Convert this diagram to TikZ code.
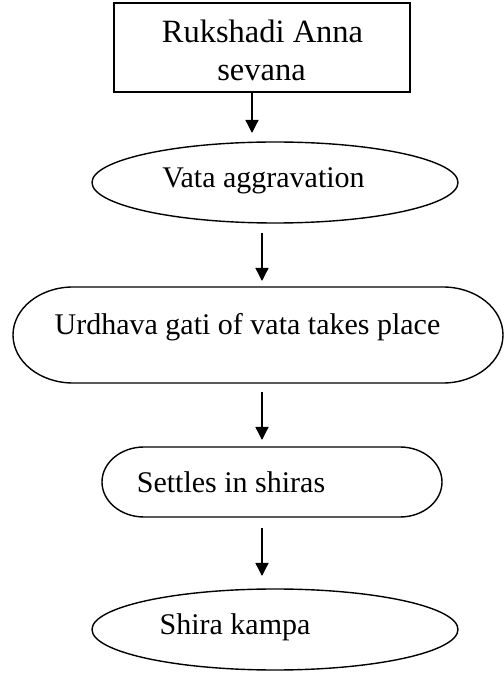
\documentclass[tikz,border=0pt]{standalone}
\usepackage{fontspec}
\setmainfont{Liberation Serif}
\usetikzlibrary{arrows.meta,shapes.geometric}

\tikzset{
  outline/.style={line width=1.4pt, draw=black},
  boxnode/.style={outline, rectangle, inner sep=0pt, outer sep=0pt},
  ovalnode/.style={outline, ellipse, inner sep=0pt, outer sep=0pt},
  capframe/.style={rectangle, draw=none, inner sep=0pt, outer sep=0pt},
  label text/.style={font=\fontsize{30}{38}\selectfont, inner sep=0pt, anchor=base},
  box text/.style={font=\fontsize{32.5}{38}\selectfont, inner sep=0pt, anchor=base},
  flowarrow/.style={line width=1.3pt, -{Triangle[length=13pt,width=13pt]}}
}

\begin{document}
\begin{tikzpicture}[x=1pt,y=1pt]
  \useasboundingbox (0,0) rectangle (504,673);

  % shapes
  \node[boxnode, minimum width=296pt, minimum height=89pt] (rect) at (262,625.5) {};
  \node[ovalnode, minimum width=366pt, minimum height=81pt] (vata) at (275,490.5) {};
  \node[capframe, minimum width=490pt, minimum height=96pt] (urd) at (258,338) {};
  \node[capframe, minimum width=340pt, minimum height=70pt] (set) at (272,191) {};
  \node[ovalnode, minimum width=366pt, minimum height=81pt] (shira) at (275,43.5) {};

  % capsule outlines with elliptical ends
  \draw[outline] ([xshift=60pt]urd.north west) -- ([xshift=-60pt]urd.north east)
    arc[start angle=90, end angle=-90, x radius=60pt, y radius=48pt]
    -- ([xshift=60pt]urd.south west)
    arc[start angle=270, end angle=90, x radius=60pt, y radius=48pt] -- cycle;
  \draw[outline] ([xshift=42pt]set.north west) -- ([xshift=-42pt]set.north east)
    arc[start angle=90, end angle=-90, x radius=42pt, y radius=35pt]
    -- ([xshift=42pt]set.south west)
    arc[start angle=270, end angle=90, x radius=42pt, y radius=35pt] -- cycle;

  % texts
  \node[box text] (t1) at ([xshift=0.5pt,yshift=4.5pt]rect.center) {Rukshadi Anna};
  \node[box text] (t2) at ([xshift=-0.5pt,yshift=-33.5pt]rect.center) {sevana};
  \node[label text] (t3) at ([xshift=-11.5pt,yshift=-5.5pt]vata.center) {Vata aggravation};
  \node[label text] (t4) at ([xshift=-10.5pt,yshift=0pt]urd.center) {Urdhava gati of vata takes place};
  \node[label text] (t5) at ([xshift=-41pt,yshift=-11pt]set.center) {Settles in shiras};
  \node[label text] (t6) at ([xshift=-40pt,yshift=-5.5pt]shira.center) {Shira kampa};

  % connectors
  \draw[flowarrow] ([xshift=-10pt]rect.south) -- ([xshift=-23pt,yshift=9pt]vata.north);
  \draw[flowarrow] ([xshift=-13pt,yshift=-10pt]vata.south) -- ([xshift=4pt,yshift=6pt]urd.north);
  \draw[flowarrow] ([xshift=4pt,yshift=-9pt]urd.south) -- ([xshift=-10pt,yshift=7pt]set.north);
  \draw[flowarrow] ([xshift=-10pt,yshift=-11pt]set.south) -- ([xshift=-13pt,yshift=13pt]shira.north);
\end{tikzpicture}
\end{document}
